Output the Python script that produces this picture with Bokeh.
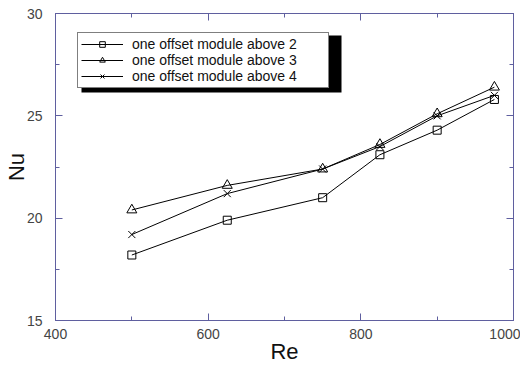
from bokeh.plotting import figure
from bokeh.models import (LinearAxis, FixedTicker, Legend, LegendItem,
                          BoxAnnotation, Range1d)
from bokeh.embed import file_html
from bokeh.resources import INLINE

# ---- data ----
re_vals = [500, 625, 750, 825, 900, 975]
nu_above2 = [18.2, 19.9, 21.0, 23.1, 24.3, 25.8]
nu_above3 = [20.4, 21.6, 22.4, 23.6, 25.1, 26.4]
nu_above4 = [19.2, 21.2, 22.4, 23.5, 25.0, 26.0]
series_labels = ["one offset module above 2",
                 "one offset module above 3",
                 "one offset module above 4"]
x_major = [400, 600, 800, 1000]
x_minor = [500, 700, 900]
y_major = [15, 20, 25, 30]
y_minor = [17.5, 22.5, 27.5]

AXIS_COLOR = "#5f5f9f"
FONT = "Liberation Sans"

p = figure(width=520, height=366, output_backend="svg", toolbar_location=None,
           x_range=Range1d(400, 1000), y_range=Range1d(15, 30),
           x_axis_location=None, y_axis_location=None,
           min_border_left=55, min_border_right=7, min_border_top=13,
           min_border_bottom=45)
p.grid.visible = False
p.outline_line_color = AXIS_COLOR
p.background_fill_color = "white"
p.border_fill_color = "white"


def make_axis(ticks, minor, label=None, show_labels=True):
    ax = LinearAxis(ticker=FixedTicker(ticks=ticks, minor_ticks=minor))
    ax.axis_line_color = AXIS_COLOR
    ax.major_tick_line_color = AXIS_COLOR
    ax.minor_tick_line_color = AXIS_COLOR
    ax.major_tick_in = 7
    ax.major_tick_out = 0
    ax.minor_tick_in = 4
    ax.minor_tick_out = 0
    ax.major_label_text_font = FONT
    ax.major_label_text_font_size = "14px"
    ax.major_label_text_color = "#444444"
    if not show_labels:
        ax.major_label_overrides = {t: "" for t in ticks}
        ax.major_label_text_font_size = "0px"
        ax.major_label_standoff = 0
    if label:
        ax.axis_label = label
        ax.axis_label_text_font = FONT
        ax.axis_label_text_font_size = "22px"
        ax.axis_label_text_font_style = "normal"
        ax.axis_label_text_color = "#111111"
    return ax


xb = make_axis(x_major, x_minor, "Re")
xb.major_label_standoff = 8
xb.axis_label_standoff = -3
yl = make_axis(y_major, y_minor, "Nu")
yl.major_label_standoff = 13
yl.axis_label_standoff = -5
xt = make_axis(x_major, x_minor, show_labels=False)
yr = make_axis(y_major, y_minor, show_labels=False)
p.add_layout(xb, "below")
p.add_layout(yl, "left")
p.add_layout(xt, "above")
p.add_layout(yr, "right")

l1 = p.line(re_vals, nu_above2, line_color="black", line_width=1)
m1 = p.scatter(re_vals, nu_above2, marker="square", size=8,
               line_color="black", fill_color=None, line_width=1)
l2 = p.line(re_vals, nu_above3, line_color="black", line_width=1)
m2 = p.scatter(re_vals, nu_above3, marker="triangle", size=10,
               line_color="black", fill_color=None, line_width=1)
l3 = p.line(re_vals, nu_above4, line_color="black", line_width=1)
m3 = p.scatter(re_vals, nu_above4, marker="x", size=10,
               line_color="black", line_width=1)

# legend box (frame-relative screen px, y measured up from frame bottom)
LEG_X, LEG_Y, LEG_W, LEG_H, SH = 22, 232, 260, 57, 4
shadow = BoxAnnotation(left=LEG_X + SH, right=LEG_X + LEG_W + SH,
                       bottom=LEG_Y - SH, top=LEG_Y + LEG_H - SH,
                       left_units="screen", right_units="screen",
                       top_units="screen", bottom_units="screen",
                       fill_color="black", fill_alpha=1.0, line_color=None)
p.add_layout(shadow)

legend = Legend(items=[LegendItem(label=series_labels[0], renderers=[l1, m1]),
                       LegendItem(label=series_labels[1], renderers=[l2, m2]),
                       LegendItem(label=series_labels[2], renderers=[l3, m3])],
                location=(LEG_X, LEG_Y))
legend.label_text_font = FONT
legend.label_text_font_size = "14px"
legend.label_text_line_height = 1.0
legend.label_text_color = "#111111"
legend.border_line_color = "black"
legend.border_line_width = 1
legend.background_fill_color = "white"
legend.background_fill_alpha = 1.0
legend.glyph_width = 42
legend.glyph_height = 14
legend.label_height = 14
legend.label_standoff = 9
legend.spacing = 0
legend.padding = 3
legend.label_width = 193
legend.margin = 0
p.add_layout(legend)

open("out.html", "w").write(file_html(p, INLINE))
